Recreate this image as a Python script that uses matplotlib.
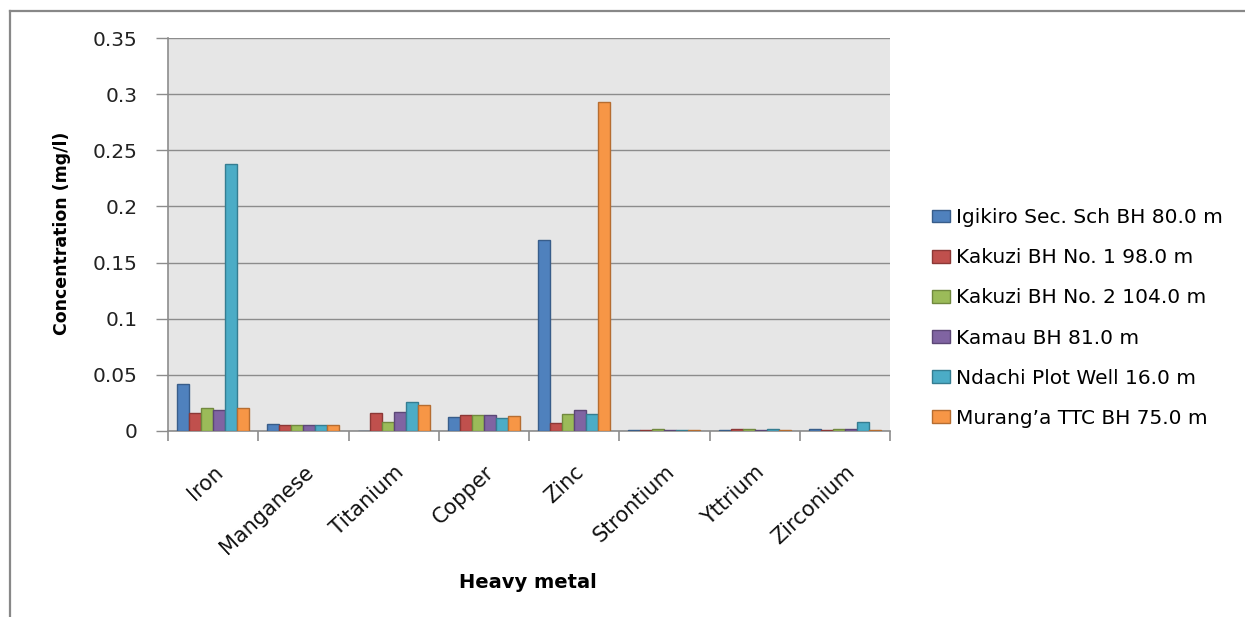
import numpy as np
import matplotlib.pyplot as plt
from matplotlib.lines import Line2D

# Heavy metal concentrations (mg/l) per borehole / well
metals = ["Iron", "Manganese", "Titanium", "Copper", "Zinc",
          "Strontium", "Yttrium", "Zirconium"]

igikiro = [0.0415, 0.006, 0.0, 0.0128, 0.170, 0.0005, 0.001, 0.0015]
kakuzi_1 = [0.0163, 0.005, 0.0158, 0.014, 0.0074, 0.0005, 0.0018, 0.0007]
kakuzi_2 = [0.0208, 0.005, 0.0078, 0.014, 0.015, 0.0015, 0.0018, 0.0015]
kamau = [0.019, 0.005, 0.0167, 0.014, 0.019, 0.0005, 0.0005, 0.0018]
ndachi = [0.2375, 0.005, 0.0256, 0.0118, 0.015, 0.0005, 0.0015, 0.0083]
murang_a = [0.0208, 0.005, 0.0229, 0.0131, 0.293, 0.0005, 0.0007, 0.0005]

series_names = ["Igikiro Sec. Sch BH 80.0 m", "Kakuzi BH No. 1 98.0 m",
                "Kakuzi BH No. 2 104.0 m", "Kamau BH 81.0 m",
                "Ndachi Plot Well 16.0 m", "Murang\u2019a TTC BH 75.0 m"]
series_values = [igikiro, kakuzi_1, kakuzi_2, kamau, ndachi, murang_a]

y_ticks = [0, 0.05, 0.1, 0.15, 0.2, 0.25, 0.3, 0.35]
y_tick_labels = ["0", "0.05", "0.1", "0.15", "0.2", "0.25", "0.3", "0.35"]

fills = ["#4F81BD", "#C0504D", "#9BBB59", "#8064A2", "#4BACC6", "#F79646"]
edges = ["#385D8A", "#8C3836", "#71893F", "#5C4776", "#357D91", "#B66D31"]

fig = plt.figure(figsize=(12.45, 6.17), dpi=100)
ax = fig.add_axes([168 / 1245, 1 - 431 / 617, 722 / 1245, 393 / 617])
ax.set_facecolor("#E6E6E6")

x = np.arange(len(metals))
w = 0.8 / 6
for i, (name, vals) in enumerate(zip(series_names, series_values)):
    ax.bar(x + (i - 2.5) * w, vals, w, color=fills[i], edgecolor=edges[i],
           linewidth=1.0, label=name, zorder=3)

ax.set_xlim(-0.5, len(metals) - 0.5)
ax.set_ylim(0, 0.35)
ax.set_yticks(y_ticks)
ax.set_yticklabels(y_tick_labels, fontsize=14.5, color="#222222")
ax.yaxis.grid(True, color="#8C8C8C", linewidth=1.0, zorder=0)

ax.set_xticks(x)
ax.set_xticklabels(metals, rotation=43, ha="right", rotation_mode="anchor",
                   fontsize=15, color="#111111")
ax.set_xticks(np.arange(len(metals) + 1) - 0.5, minor=True)
ax.tick_params(axis="x", which="major", length=0, pad=22)
ax.tick_params(axis="x", which="minor", length=7, color="#8C8C8C", width=1.2)
ax.tick_params(axis="y", length=9, color="#8C8C8C", width=1.0, pad=13)

for side in ["top", "right"]:
    ax.spines[side].set_visible(False)
for side in ["left", "bottom"]:
    ax.spines[side].set_color("#8C8C8C")
    ax.spines[side].set_linewidth(1.2)

fig.text(62 / 1245, 1 - 233 / 617, "Concentration (mg/l)", rotation=90,
         ha="center", va="center", fontsize=12.5, fontweight="bold")
fig.text(528 / 1245, 1 - 582 / 617, "Heavy metal", ha="center", va="center",
         fontsize=14, fontweight="bold")

fig.legend(loc="center left", bbox_to_anchor=(932 / 1245, 1 - 318 / 617),
           bbox_transform=fig.transFigure, frameon=False, fontsize=14.5,
           handlelength=0.9, handleheight=0.6, handletextpad=0.3,
           labelspacing=1.05, borderpad=0, borderaxespad=0)

# outer chart frame (left and top edges only)
fig.add_artist(Line2D([9.5 / 1245, 9.5 / 1245], [0, 1 - 11 / 617],
                      color="#888888", linewidth=1.6))
fig.add_artist(Line2D([9.5 / 1245, 1], [1 - 11 / 617, 1 - 11 / 617],
                      color="#888888", linewidth=1.6))

fig.savefig("out.png", dpi=100)
